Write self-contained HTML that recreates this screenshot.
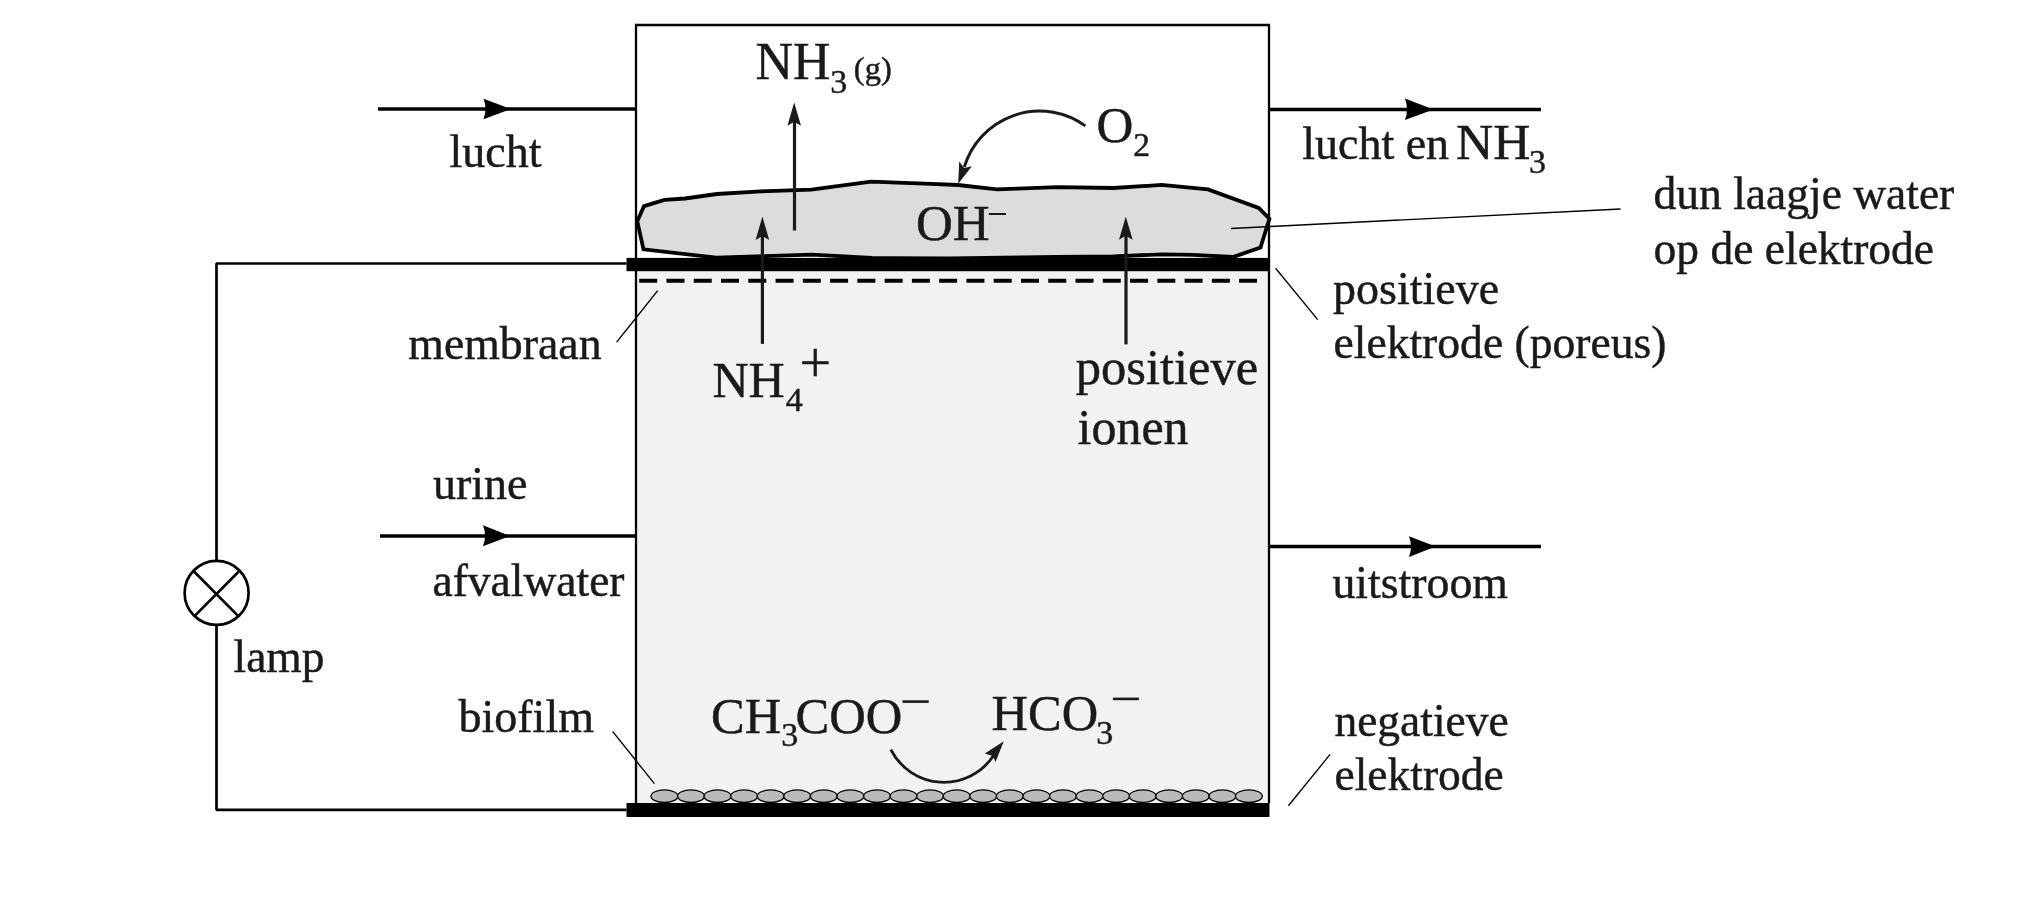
<!DOCTYPE html>
<html><head><meta charset="utf-8">
<style>
html,body{margin:0;padding:0;background:#fff;width:2022px;height:904px;overflow:hidden}
svg{display:block;will-change:transform}
text{font-family:"Liberation Serif",serif;fill:#1a1a1a;stroke:#1a1a1a;stroke-width:0.45px}
</style></head>
<body>
<svg width="2022" height="904" viewBox="0 0 2022 904">
<!-- lower compartment fill -->
<rect x="636" y="271" width="633" height="532" fill="#f2f2f2"/>
<!-- box outline -->
<path d="M636 803 V25 H1269 V803" fill="none" stroke="#000" stroke-width="2.3"/>
<!-- electrode bars -->
<rect x="626.5" y="257.9" width="643" height="13.3" fill="#000"/>
<rect x="626.5" y="803" width="643" height="14" fill="#000"/>
<!-- circuit -->
<path d="M626.5 263.5 H216.5 V560 M216.5 626 V809.8 H626.5" fill="none" stroke="#000" stroke-width="2.7" stroke-linejoin="bevel"/>
<circle cx="216.6" cy="592.9" r="32" fill="none" stroke="#000" stroke-width="2.7"/>
<path d="M194 571.5 L238.8 616.6 M238.8 571.5 L194 616.6" stroke="#000" stroke-width="2.7"/>
<!-- membrane dashed -->
<line x1="639.2" y1="280.7" x2="1257" y2="280.7" stroke="#000" stroke-width="4" stroke-dasharray="18 9.27"/>
<!-- water blob -->
<path d="M637.3 221.3 L644 206.1 L664.5 199.9 L685 198.5 L717 194 L760.6 191.4 L811.4 189.6 L871 181.6 L931.5 183.9 L958 185 L997 189.4 L1057.5 187.1 L1113.6 188 L1161.6 184.9 L1208 189.4 L1258.7 208 L1269.4 218.7 L1260.5 247.6 L1232.9 257 L1193.2 254.8 L1162.2 254.3 L1113.2 256.4 L1056 256.9 L950 258.5 L872.1 257.9 L812 254.7 L716.2 257.6 L643.5 249.3 Z" fill="#dcdcdc" stroke="#000" stroke-width="3.8" stroke-linejoin="miter"/>
<!-- flow lines -->
<g stroke="#000" stroke-width="3.6">
<line x1="378" y1="109" x2="636" y2="109"/>
<line x1="1270" y1="109.5" x2="1541" y2="109.5"/>
<line x1="380" y1="536" x2="636" y2="536"/>
<line x1="1270" y1="546.5" x2="1541" y2="546.5"/>
</g>
<g fill="#000">
<path d="M511 109 L483.5 98.8 Q487.5 109 483.5 119.2 Z"/>
<path d="M1433.5 109.5 L1405 98.5 Q1409 109.5 1405 120 Z"/>
<path d="M510 536 L483 525.2 Q487 536 483 546.3 Z"/>
<path d="M1435.5 546.5 L1409 536.2 Q1413 546.5 1409 557 Z"/>
</g>
<!-- leader lines -->
<g stroke="#000" stroke-width="1.35">
<line x1="616.6" y1="342.2" x2="657.7" y2="290.6"/>
<line x1="1231" y1="228.5" x2="1620.5" y2="209"/>
<line x1="1275.6" y1="268.3" x2="1317.7" y2="319.6"/>
<line x1="612.6" y1="731.4" x2="654.4" y2="783.7"/>
<line x1="1288.4" y1="805.8" x2="1330.1" y2="754.4"/>
</g>
<!-- vertical arrows -->
<g stroke="#1a1a1a" stroke-width="3.2" fill="none">
<line x1="794.5" y1="230.5" x2="794.5" y2="118"/>
<line x1="762.4" y1="343.9" x2="762.4" y2="228"/>
<line x1="1126" y1="344.4" x2="1126" y2="228"/>
</g>
<g fill="#1a1a1a">
<path d="M794.2 102.5 L801 125.8 L794.2 121.8 L787.4 125.8 Z"/>
<path d="M762.4 216.5 L769.2 240 L762.4 236 L755.6 240 Z"/>
<path d="M1125.8 216.5 L1132.6 239.8 L1125.8 235.8 L1119 239.8 Z"/>
</g>
<!-- curved arrows -->
<path d="M1085.3 125.9 A78.5 78.5 0 0 0 964.3 167" fill="none" stroke="#1a1a1a" stroke-width="3"/>
<path d="M958.2 183.8 L959.2 161.6 L964.2 167.9 L971.9 166.2 Z" fill="#1a1a1a"/>
<path d="M890.9 749.6 A59.3 59.3 0 0 0 993.5 755.5" fill="none" stroke="#1a1a1a" stroke-width="2.8"/>
<path d="M1003.8 741.3 L984.8 753.6 L992.8 755.9 L995.5 761.9 Z" fill="#1a1a1a"/>
<!-- biofilm -->
<g id="bio" fill="#bababa" stroke="#000" stroke-width="1.3"><ellipse cx="664.4" cy="796.2" rx="13.4" ry="6.3"/><ellipse cx="691.0" cy="796.2" rx="13.4" ry="6.3"/><ellipse cx="717.5" cy="796.2" rx="13.4" ry="6.3"/><ellipse cx="744.1" cy="796.2" rx="13.4" ry="6.3"/><ellipse cx="770.7" cy="796.2" rx="13.4" ry="6.3"/><ellipse cx="797.2" cy="796.2" rx="13.4" ry="6.3"/><ellipse cx="823.8" cy="796.2" rx="13.4" ry="6.3"/><ellipse cx="850.4" cy="796.2" rx="13.4" ry="6.3"/><ellipse cx="877.0" cy="796.2" rx="13.4" ry="6.3"/><ellipse cx="903.5" cy="796.2" rx="13.4" ry="6.3"/><ellipse cx="930.1" cy="796.2" rx="13.4" ry="6.3"/><ellipse cx="956.7" cy="796.2" rx="13.4" ry="6.3"/><ellipse cx="983.2" cy="796.2" rx="13.4" ry="6.3"/><ellipse cx="1009.8" cy="796.2" rx="13.4" ry="6.3"/><ellipse cx="1036.4" cy="796.2" rx="13.4" ry="6.3"/><ellipse cx="1063.0" cy="796.2" rx="13.4" ry="6.3"/><ellipse cx="1089.5" cy="796.2" rx="13.4" ry="6.3"/><ellipse cx="1116.1" cy="796.2" rx="13.4" ry="6.3"/><ellipse cx="1142.7" cy="796.2" rx="13.4" ry="6.3"/><ellipse cx="1169.2" cy="796.2" rx="13.4" ry="6.3"/><ellipse cx="1195.8" cy="796.2" rx="13.4" ry="6.3"/><ellipse cx="1222.4" cy="796.2" rx="13.4" ry="6.3"/><ellipse cx="1248.9" cy="796.2" rx="13.4" ry="6.3"/></g>
<!-- texts -->
<text x="755.5" y="79" font-size="51.8">NH<tspan font-size="34" y="92.8">3</tspan><tspan font-size="32.5" y="79" dx="6.5">(g)</tspan></text>
<text x="449.5" y="166.5" font-size="46">lucht</text>
<text x="1096.5" y="142" font-size="51">O<tspan font-size="33.5" y="155.8">2</tspan></text>
<text x="1302.2" y="158.8" font-size="46">lucht en <tspan font-size="51.5" x="1456">NH</tspan><tspan font-size="34" y="172.5" dx="-1.5">3</tspan></text>
<text x="1653.6" y="209" font-size="45.5">dun laagje water</text>
<text x="1653.6" y="264.1" font-size="45.5">op de elektrode</text>
<text x="916" y="239.9" font-size="51">OH</text>
<line x1="988.9" y1="214" x2="1006" y2="214" stroke="#1a1a1a" stroke-width="2"/>
<text x="1333" y="304.4" font-size="46">positieve</text>
<text x="1333.5" y="358.4" font-size="45.6">elektrode (poreus)</text>
<text x="408.3" y="359.2" font-size="45.8">membraan</text>
<text x="712.5" y="396.5" font-size="50">NH<tspan font-size="34" y="410.5" dx="1">4</tspan></text>
<text x="799.5" y="381.8" font-size="56">+</text>
<text x="1075.8" y="383.9" font-size="50.5">positieve</text>
<text x="1077.5" y="444.3" font-size="50">ionen</text>
<text x="433" y="499.3" font-size="46">urine</text>
<text x="432.5" y="595.8" font-size="45.5">afvalwater</text>
<text x="1332.4" y="597.7" font-size="45.8">uitstroom</text>
<text x="233.5" y="671.8" font-size="45.5">lamp</text>
<text x="458.5" y="732.3" font-size="46">biofilm</text>
<text x="711" y="733.4" font-size="50.5">CH<tspan font-size="34" y="746">3</tspan><tspan y="733.4" dx="-2.6" font-size="50.6">COO</tspan></text>
<line x1="902.5" y1="701.6" x2="928.8" y2="701.6" stroke="#1a1a1a" stroke-width="2.6"/>
<text x="991.5" y="730.1" font-size="50.5">HCO<tspan font-size="34" y="744" dx="-2">3</tspan></text>
<line x1="1112.9" y1="698.9" x2="1138.9" y2="698.9" stroke="#1a1a1a" stroke-width="2.6"/>
<text x="1334.4" y="736" font-size="45.5">negatieve</text>
<text x="1334.5" y="789.5" font-size="45.5">elektrode</text>
</svg>
</body></html>
